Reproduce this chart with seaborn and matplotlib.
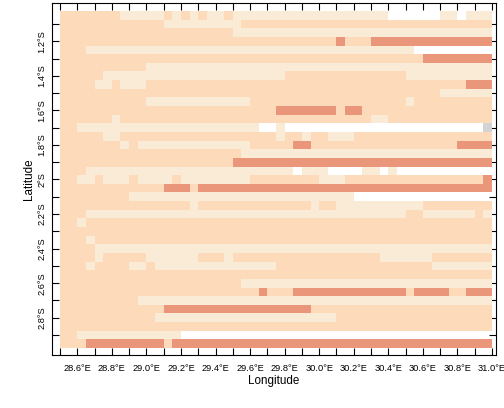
import numpy as np
import matplotlib
matplotlib.use('Agg')  # Non-interactive backend
import matplotlib.pyplot as plt
from matplotlib.colors import ListedColormap
import seaborn as sns

# raster grid: west edge / north edge (deg S) and cell size in degrees
lon_west = 28.5
lat_north = 1.025
cell_deg = 0.05

# class of each cell, one row per 0.05 deg from north to south, run-length coded
# C = cream, P = peach, D = salmon, G = grey, W = no data
class_rows = [
    "P7 C5 P1 C1 P1 C1 P1 C2 P1 C18 W6 C2 W1 C3",
    "P12 C9 P29",
    "P20 C30",
    "P32 D1 P3 D14",
    "P3 C38 W9",
    "P42 D8",
    "P10 C40",
    "P5 C21 P14 C10",
    "P4 C2 P1 C3 P37 D3",
    "P44 C6",
    "P10 C12 P18 C1 P9",
    "P25 D7 P1 D2 P15",
    "P6 C1 P29 C2 P12",
    "P2 C21 W2 C1 W23 G1",
    "P5 C2 P18 C1 P2 C1 P2 C3 P16",
    "P7 C1 P1 C13 P5 D2 P17 D4",
    "P21 C29",
    "P20 D30",
    "P3 C24 W1 C3 W4 C2 W1 C1 W11",
    "P2 C2 P1 C3 P1 C4 P1 C8 P8 C3 P16 D1",
    "P12 D3 P1 D34",
    "P8 C26 W16",
    "P15 C1 P13 C1 P2 C10 P8",
    "P3 C37 P2 C6 P1 C1",
    "P2 C1 P47",
    "P50",
    "P3 C1 P46",
    "P4 C46",
    "P4 C1 P5 C6 P3 C1 P17 C6 P7",
    "P3 C1 P4 C2 P1 C14 P18 C7",
    "P50",
    "P21 C29",
    "P23 D1 P3 D13 P1 D4 P2 D3",
    "P9 C41",
    "P12 D17 P21",
    "P11 C21 P18",
    "P50",
    "P2 C12 W36",
    "P3 D9 P1 D37",
]
class_codes = {"C": 0, "P": 1, "D": 2, "G": 3, "W": np.nan}
class_colors = ["#FAEBD7", "#FDDAB9", "#E9967A", "#D3D3D3"]

lon_ticks = [28.5, 28.6, 28.7, 28.8, 28.9, 29.0, 29.1, 29.2, 29.3, 29.4, 29.5, 29.6, 29.7,
             29.8, 29.9, 30.0, 30.1, 30.2, 30.3, 30.4, 30.5, 30.6, 30.7, 30.8, 30.9, 31.0]
lat_ticks = [1.1, 1.2, 1.3, 1.4, 1.5, 1.6, 1.7, 1.8, 1.9, 2.0,
             2.1, 2.2, 2.3, 2.4, 2.5, 2.6, 2.7, 2.8, 2.9]
lon_labels = [28.6, 28.8, 29.0, 29.2, 29.4, 29.6, 29.8, 30.0, 30.2, 30.4, 30.6, 30.8, 31.0]
lat_labels = [1.2, 1.4, 1.6, 1.8, 2.0, 2.2, 2.4, 2.6, 2.8]

# decode the run-length rows into a grid
grid = []
for row in class_rows:
    vals = []
    for run in row.split():
        vals += [class_codes[run[0]]] * int(run[1:])
    grid.append(vals)
grid = np.array(grid, dtype=float)

plt.rcParams['font.family'] = ['Liberation Sans', 'DejaVu Sans']

fig = plt.figure(figsize=(5.04, 4.08), dpi=100)
ax = fig.add_axes([0.1038, 0.1299, 0.8798, 0.862])

sns.heatmap(grid, cmap=ListedColormap(class_colors), vmin=-0.5, vmax=3.5,
            mask=np.isnan(grid), cbar=False, ax=ax)

# padded limits like the original panel
ax.set_xlim(-0.89, 50.43)
ax.set_ylim(39.81, -0.89)

to_col = lambda lon: (lon - lon_west) / cell_deg
to_row = lambda lat: (lat - lat_north) / cell_deg

ax.set_xticks([to_col(v) for v in lon_ticks])
ax.set_xticklabels([f'{v:.1f}\u00b0E' if any(abs(v - l) < 1e-6 for l in lon_labels) else ''
                    for v in lon_ticks], rotation=0)
ax.set_yticks([to_row(v) for v in lat_ticks])
ax.set_yticklabels([f'{v:g}\u00b0S' if any(abs(v - l) < 1e-6 for l in lat_labels) else ''
                    for v in lat_ticks], rotation=90, va='center')

ax.tick_params(axis='both', direction='in', length=5, width=0.8, color='black',
               labelsize=6.7, top=True, right=True, left=True, bottom=True,
               labeltop=False, labelright=False)
ax.tick_params(axis='x', pad=6.5)
ax.tick_params(axis='y', pad=4.5)
ax.set_axisbelow(True)

for s in ax.spines.values():
    s.set_visible(True)
    s.set_linewidth(0.8)
    s.set_color('black')

ax.set_xlabel('Longitude', fontsize=8.4, labelpad=1.5)
ax.set_ylabel('Latitude', fontsize=8.4, labelpad=1.5)

fig.savefig('out.png', dpi=100)
plt.close()
